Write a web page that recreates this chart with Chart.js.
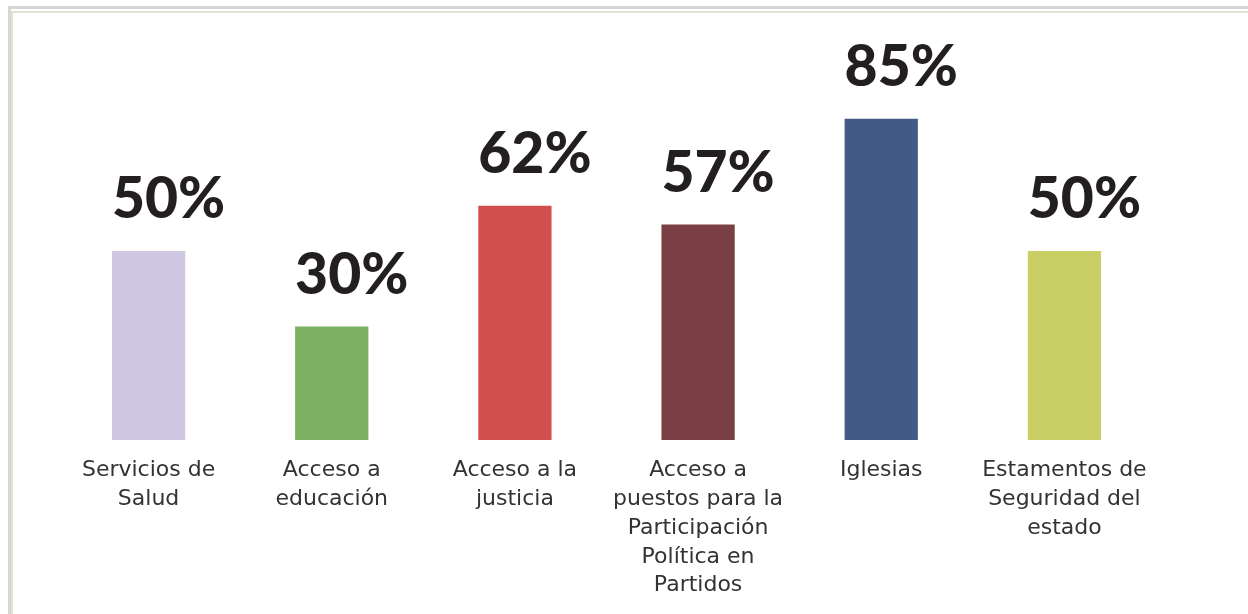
<!DOCTYPE html>
<html>
<head>
<meta charset="utf-8">
<script src="https://cdn.jsdelivr.net/npm/chart.js@4/dist/chart.umd.min.js"></script>
<style>
  html, body { margin: 0; padding: 0; background: #fff; }
  #wrap { position: relative; width: 1248px; height: 614px; }
  .frameGray { position: absolute; left: 8px; top: 6px; right: 0; bottom: 0;
    border-top: 3px solid #d6d6d6; border-left: 3px solid #d6d6d6; }
  .frameBeige { position: absolute; left: 11px; top: 11px; right: 0; bottom: 0;
    border-top: 2px solid #e2e2d2; border-left: 2px solid #e2e2d2; }
  canvas { position: absolute; left: 0; top: 0; }
</style>
</head>
<body>
<div id="wrap">
  <div class="frameGray"></div>
  <div class="frameBeige"></div>
  <canvas id="chart" width="1248" height="614"></canvas>
</div>
<script>
// --- dati ---
const categories = [
  ['Servicios de', 'Salud'],
  ['Acceso a', 'educación'],
  ['Acceso a la', 'justicia'],
  ['Acceso a', 'puestos para la', 'Participación', 'Política en', 'Partidos'],
  ['Iglesias'],
  ['Estamentos de', 'Seguridad del', 'estado']
];
const values = [50, 30, 62, 57, 85, 50];
const barColors = ['#d0c8e2', '#7cb062', '#d14f4f', '#7a3f44', '#425b86', '#c9cf65'];

// etichette sopra le barre
const valueLabels = {
  id: 'valueLabels',
  afterDatasetsDraw(chart) {
    const c = chart.ctx;
    const meta = chart.getDatasetMeta(0);
    c.save();
    c.font = '900 57px Lato, Roboto, sans-serif';
    c.fillStyle = '#231f20';
    c.textAlign = 'left';
    c.textBaseline = 'alphabetic';
    meta.data.forEach((bar, i) => {
      c.fillText(values[i] + '%', bar.x - bar.width / 2, bar.y - 33);
    });
    c.restore();
  }
};

const ctx = document.getElementById('chart').getContext('2d');
new Chart(ctx, {
  type: 'bar',
  data: {
    labels: categories,
    datasets: [{
      data: values,
      backgroundColor: barColors,
      borderWidth: 0,
      barPercentage: 0.4,
      categoryPercentage: 1.0
    }]
  },
  options: {
    responsive: false,
    animation: false,
    layout: { padding: { left: 57, right: 92, top: 62, bottom: 0 } },
    plugins: { legend: { display: false }, tooltip: { enabled: false } },
    scales: {
      x: {
        grid: { display: false },
        border: { display: false },
        ticks: {
          color: '#333',
          font: { family: '"DejaVu Sans", sans-serif', size: 22, lineHeight: 1.31 },
          padding: 8,
          maxRotation: 0,
          autoSkip: false
        },
        afterFit: s => { s.height = 174; }
      },
      y: {
        display: false,
        min: 0,
        max: 100
      }
    }
  },
  plugins: [valueLabels]
});
</script>
</body>
</html>
